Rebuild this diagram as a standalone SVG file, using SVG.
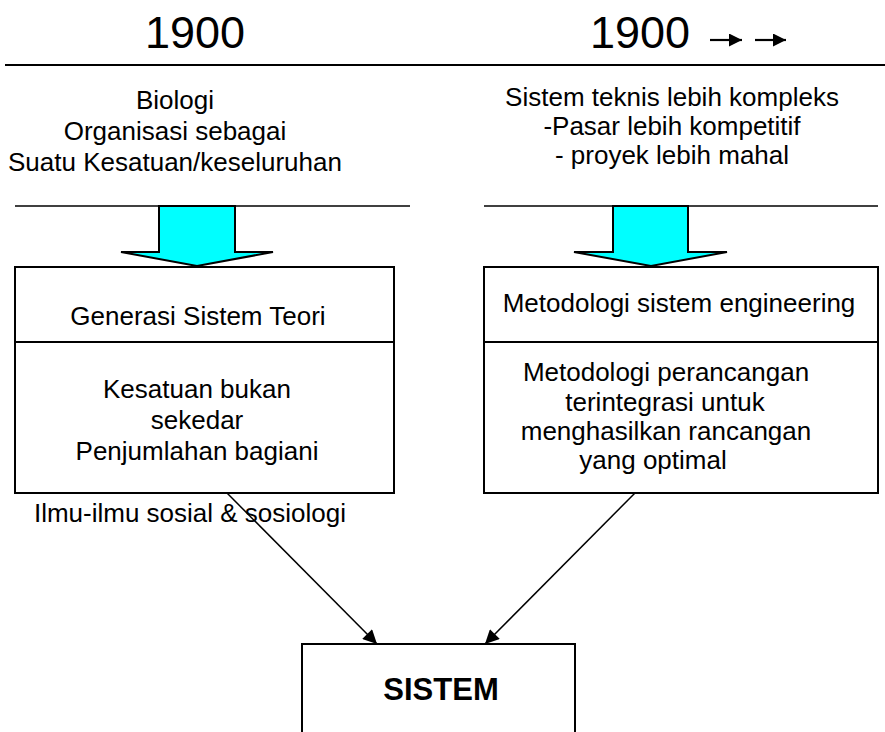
<svg xmlns="http://www.w3.org/2000/svg" width="885" height="732" viewBox="0 0 885 732">
  <style>
    text { font-family: "Liberation Sans", Arial, sans-serif; fill: #000; }
    .yr { font-size: 45px; text-anchor: middle; }
    .t { font-size: 26px; text-anchor: middle; }
    .rule { stroke: #000; stroke-width: 1.5; fill: none; }
    .box { fill: #fff; stroke: #000; stroke-width: 2; }
    .block { fill: #00ffff; stroke: #000; stroke-width: 2; stroke-linejoin: miter; }
    .conn { stroke: #000; stroke-width: 1.5; fill: none; }
    .dir { stroke: #000; stroke-width: 2.2; fill: none; }
  </style>
  <defs>
    <marker id="head" viewBox="0 0 10 10" refX="10" refY="5" markerWidth="16" markerHeight="14" markerUnits="userSpaceOnUse" orient="auto">
      <path d="M0,0 L10,5 L0,10 Z" fill="#000"/>
    </marker>
    <marker id="tip" viewBox="0 0 10 10" refX="10" refY="5" markerWidth="13" markerHeight="13" markerUnits="userSpaceOnUse" orient="auto">
      <path d="M0,0 L10,5 L0,10 Z" fill="#000"/>
    </marker>
  </defs>

  <!-- header -->
  <g id="header">
    <text class="yr" x="195" y="48">1900</text>
    <text class="yr" x="640" y="48">1900</text>
    <line class="dir" x1="710" y1="40" x2="742" y2="40" marker-end="url(#tip)"/>
    <line class="dir" x1="755" y1="40" x2="786" y2="40" marker-end="url(#tip)"/>
    <line x1="5" y1="65" x2="885" y2="65" stroke="#000" stroke-width="2"/>
  </g>

  <!-- left column -->
  <g id="left-context">
    <text class="t" x="175" y="109">Biologi</text>
    <text class="t" x="175" y="140">Organisasi sebagai</text>
    <text class="t" x="175" y="171">Suatu Kesatuan/keseluruhan</text>
    <line class="rule" x1="15" y1="206" x2="410" y2="206"/>
    <path class="block" d="M159,206 L235,206 L235,252 L273,252 L197,266 L121,252 L159,252 Z"/>
  </g>

  <g id="left-box">
    <rect class="box" x="15" y="267" width="379" height="226"/>
    <line class="box" x1="15" y1="342" x2="394" y2="342"/>
    <text class="t" x="198" y="325">Generasi Sistem Teori</text>
    <text class="t" x="197" y="398">Kesatuan bukan</text>
    <text class="t" x="197" y="429">sekedar</text>
    <text class="t" x="197" y="460">Penjumlahan bagiani</text>
    <text class="t" x="190" y="522">Ilmu-ilmu sosial &amp; sosiologi</text>
  </g>

  <!-- right column -->
  <g id="right-context">
    <text class="t" x="672" y="106">Sistem teknis lebih kompleks</text>
    <text class="t" x="672" y="135">-Pasar lebih kompetitif</text>
    <text class="t" x="672" y="164">- proyek lebih mahal</text>
    <line class="rule" x1="484" y1="206" x2="878" y2="206"/>
    <path class="block" d="M613,206 L688,206 L688,252 L727,252 L651,266 L574,252 L613,252 Z"/>
  </g>

  <g id="right-box">
    <rect class="box" x="484" y="267" width="394" height="226"/>
    <line class="box" x1="484" y1="342" x2="878" y2="342"/>
    <text class="t" x="679" y="312">Metodologi sistem engineering</text>
    <text class="t" x="666" y="381">Metodologi perancangan</text>
    <text class="t" x="665" y="411">terintegrasi untuk</text>
    <text class="t" x="666" y="440">menghasilkan rancangan</text>
    <text class="t" x="653" y="469">yang optimal</text>
  </g>

  <!-- result -->
  <g id="sistem">
    <rect class="box" x="302" y="644" width="273" height="100"/>
    <text x="441" y="700" font-size="31" font-weight="bold" text-anchor="middle">SISTEM</text>
  </g>

  <g id="connectors">
    <line class="conn" x1="227" y1="493" x2="377" y2="644" marker-end="url(#head)"/>
    <line class="conn" x1="635" y1="493" x2="485" y2="644" marker-end="url(#head)"/>
  </g>
</svg>
